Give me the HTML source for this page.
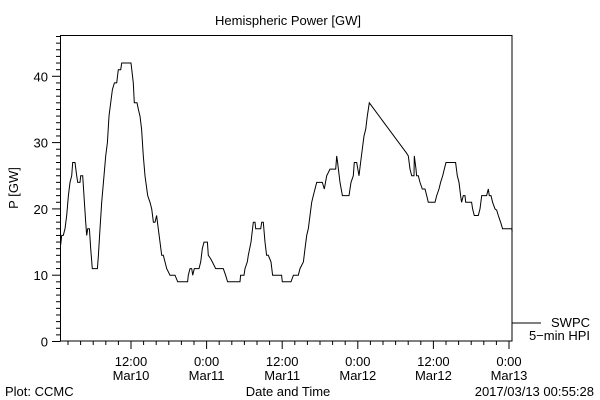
<!DOCTYPE html>
<html><head><meta charset="utf-8"><style>
html,body{margin:0;padding:0;background:#fff;}
svg{display:block;}
text{font-family:"Liberation Sans",sans-serif;font-size:13px;fill:#000;}
</style></head><body>
<svg id="chart" width="600" height="400" viewBox="0 0 600 400" xmlns="http://www.w3.org/2000/svg">
<rect x="0" y="0" width="600" height="400" fill="#fff"/>
<text x="288" y="25" text-anchor="middle" font-size="14">Hemispheric Power [GW]</text>
<text transform="translate(18,188) rotate(-90)" text-anchor="middle">P [GW]</text>
<text x="288" y="396" text-anchor="middle">Date and Time</text>
<text x="5" y="396">Plot: CCMC</text>
<text x="594" y="396" text-anchor="end">2017/03/13 00:55:28</text>
<line x1="512" y1="323" x2="541" y2="323" stroke="#000" stroke-width="1"/>
<text x="590" y="327" text-anchor="end">SWPC</text>
<text x="590" y="340" text-anchor="end">5−min HPI</text>
<g id="axes"></g>
<polyline id="series" fill="none" stroke="#000" stroke-width="1"/>
<rect x="60.5" y="35.5" width="451.5" height="305.5" fill="none" stroke="#000" stroke-width="1"/>
</svg>
<script>
// hours since 2017-03-10 00:00 UT
const times = [0.84,1.0,1.26,1.53,1.79,2.06,2.32,2.59,2.74,3.11,3.38,3.54,3.91,4.01,4.33,4.6,4.81,4.97,5.12,5.39,5.6,5.86,6.66,6.82,7.08,7.35,7.72,7.98,8.25,8.51,8.77,9.04,9.36,9.73,9.99,10.36,10.52,12.0,12.37,12.53,12.95,13.17,13.43,13.69,13.96,14.22,14.65,15.02,15.28,15.55,15.81,16.07,16.34,16.6,16.87,17.13,17.4,17.66,18.19,18.98,19.41,20.99,21.1,21.37,21.63,21.79,22.05,22.79,23.06,23.32,23.59,24.12,24.27,24.64,24.91,25.44,26.65,27.02,27.34,29.3,29.4,29.93,30.09,30.46,30.62,31.05,31.42,31.68,31.79,32.58,32.74,33.0,33.27,33.53,33.8,34.22,34.48,35.91,36.02,37.4,37.77,38.56,38.83,39.36,39.62,39.89,40.15,40.41,40.68,40.94,41.21,41.47,42.37,42.69,43.06,43.59,44.49,44.65,44.8,45.18,45.55,46.6,46.92,47.29,47.45,47.82,48.19,48.45,48.72,48.98,49.25,49.51,49.67,49.83,55.75,56.02,56.28,56.55,56.92,56.97,57.24,57.34,57.61,57.87,58.24,58.66,58.93,59.19,60.25,60.52,60.89,61.15,61.47,61.73,62.0,63.53,63.8,64.06,64.32,64.48,64.75,65.01,65.12,66.07,66.23,66.49,67.13,67.39,67.66,68.45,68.72,68.87,69.14,69.4,69.77,70.04,70.3,70.67,70.99,72.42,72.52];
const power = [14.6,16,16,17,19,22,24,25,27,27,25,24,24,25,25,21,18,16,17,17,14,11,11,13,17,21,25,28,30,34,36,38,39,39,41,41,42,42,39,36,36,35,34,32,28,25,22,21,20,18,18,19,17,15,13,13,12,11,10,10,9,9,10,11,11,10,11,11,12,14,15,15,13,12.5,12,11,11,10,9,9,10,10,11,12,13,15,18,18,17,17,18,18,15,13,13,12,10,10,9,9,10,10,11,12,14,16,17,19,21,22,23,24,24,23,25,26,26,28,27,24,22,22,24,25,27,27,25,27,29,31,32,34,35,36,28.4,28,26,25,25,28,26,25,25,24,23,23,22,21,21,22,23,24,25,26,27,27,25,24,22,21,22,22,21,21,20,19,19,20,22,22,23,22,22,21,20,19.8,19,18,17,17,16.6];
const yTickValues = [0,10,20,30,40];
const xTickHours = [12,24,36,48,60,72];
const xTickTime = ["12:00","0:00","12:00","0:00","12:00","0:00"];
const xTickDate = ["Mar10","Mar11","Mar11","Mar12","Mar12","Mar13"];

const NS="http://www.w3.org/2000/svg";
function xScale(t){return 131+(t-12)*6.3;}
function yScale(v){return 341.5-v*6.63;}
const axes=document.getElementById('axes');
function mk(tag,attrs){const e=document.createElementNS(NS,tag);for(const k in attrs)e.setAttribute(k,attrs[k]);axes.appendChild(e);return e;}

// y minor ticks every 1 GW
for(let v=0;v<=46;v++){
  const y=yScale(v); if(y<35)break;
  const major=(v%10===0);
  const l=mk('line',{x1:60.5,x2:major?52:56,y1:y,y2:y,stroke:'#000','stroke-width':1});
  
  
}
yTickValues.forEach(v=>{
  const t=mk('text',{x:48,y:yScale(v)+5,'text-anchor':'end'});
  t.textContent=String(v);
  
  
});
// x ticks every 2 hours
for(let h=2;h<=72;h+=2){
  const x=xScale(h); if(x<60.5||x>512)continue;
  const major=(h%12===0);
  const l=mk('line',{x1:x,x2:x,y1:341,y2:major?349:345,stroke:'#000','stroke-width':1});
  
  
}
xTickHours.forEach((h,i)=>{
  const a=mk('text',{x:xScale(h),y:366,'text-anchor':'middle'});
  a.textContent=xTickTime[i];
  
  
  const b=mk('text',{x:xScale(h),y:380,'text-anchor':'middle'});
  b.textContent=xTickDate[i];
  
  
});
document.getElementById('series').setAttribute('points',
  times.map((t,i)=>xScale(t).toFixed(1)+','+yScale(power[i]).toFixed(1)).join(' '));
</script>
</body></html>
